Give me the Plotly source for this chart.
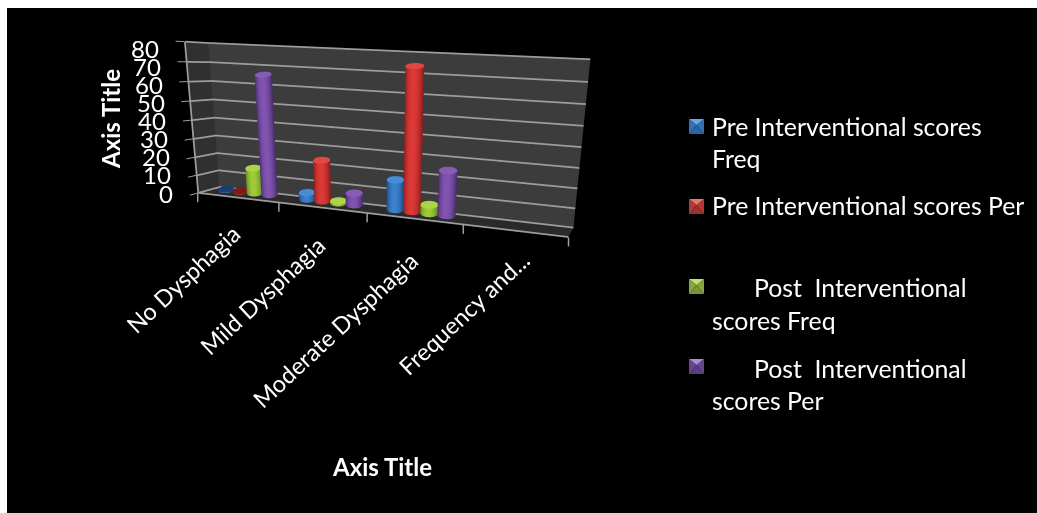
import numpy as np
import plotly.graph_objects as go

# Dysphagia category scores
categories = ["No Dysphagia", "Mild Dysphagia", "Moderate Dysphagia", "Frequency and..."]
pre_freq = [0, 3.6, 15.6, None]
pre_per = [0, 22, 72, None]
post_freq = [14, 1, 4.5, None]
post_per = [64, 6.2, 23, None]
z_ticks = [0, 10, 20, 30, 40, 50, 60, 70, 80]
legend_names = [
    ["Pre Interventional scores", "Freq"],
    ["Pre Interventional scores Per"],
    ["Post\u00a0\u00a0Interventional", "scores Freq"],
    ["Post\u00a0\u00a0Interventional", "scores Per"],
]

W, H = 1037, 513
FONT = "Lato"

# scene camera and box proportions
EYE = np.array([0.79197, -1.72504, 0.22249])
CEN = np.array([0.13304, 0.54590, -0.53179])
UP = np.array([-0.18806, 0.46971, 1.0])
ASP = np.array([1.21967, 0.11132, 0.47184])
CX = 462.74
VIEW_W = 2 * CX

def page_xy(x, y, z):
    """Page position of a data point under the scene camera (used for ticks and label anchors)."""
    X = (np.array([x / 4, y, z / 80]) - 0.5) * ASP
    f = EYE - CEN; f = f / np.linalg.norm(f)
    s = np.cross(UP, f); s = s / np.linalg.norm(s)
    u = np.cross(f, s)
    d = X - EYE
    F = H / 2 / np.tan(np.pi / 8)
    return CX + F * (d @ s) / -(d @ f), H / 2 - F * (d @ u) / -(d @ f)

BAR_W = 1 / 5.5
RX, RY = BAR_W / 2 * 1.02, 0.15
CAP_K = 1.4      # opens the end discs so both ends read as round
FLAT_H = 0.3     # zero-height columns still show their disc

def mix(a, b, w):
    return "rgb(%d,%d,%d)" % tuple(a[i] + (b[i] - a[i]) * w for i in range(3))

def cylinder(cx, v, bright, dark, cap):
    n = 48
    h = max(v, FLAT_H)
    th = np.linspace(0, 2 * np.pi, n, endpoint=False)
    xs = cx + RX * np.cos(th)
    ys = 0.5 + RY * np.sin(th)
    lows = CAP_K * (1 + np.sin(th))
    tops = lows + h
    screen = np.array([page_xy(a, b, 0)[0] for a, b in zip(xs, ys)])
    us = (screen - screen.min()) / (screen.max() - screen.min())
    vx, vy, vz, col, I, J, K = [], [], [], [], [], [], []
    for a in range(n):
        w = np.sin(np.pi * us[a] ** 0.85) ** 0.75
        vx += [xs[a], xs[a]]; vy += [ys[a], ys[a]]; vz += [lows[a], tops[a]]
        col += [mix(dark, bright, w)] * 2
    for a in range(n):
        b = (a + 1) % n
        I += [2 * a, 2 * a + 1]; J += [2 * b, 2 * b]; K += [2 * a + 1, 2 * b + 1]
    base = len(vx)
    vx += list(xs) + [cx]; vy += list(ys) + [0.5]; vz += list(tops) + [CAP_K + h]
    col += [cap if v > 0 else mix(dark, dark, 0)] * (n + 1)
    for a in range(n):
        I.append(base + a); J.append(base + (a + 1) % n); K.append(base + n)
    return go.Mesh3d(x=vx, y=vy, z=vz, i=I, j=J, k=K, vertexcolor=col,
                     lighting=dict(ambient=1, diffuse=0, specular=0, roughness=1, fresnel=0),
                     showlegend=False, hoverinfo="skip")

series = [
    (pre_freq, (60, 130, 205), (24, 64, 115), "rgb(70,140,215)"),
    (pre_per, (222, 58, 55), (125, 26, 26), "rgb(225,72,66)"),
    (post_freq, (160, 205, 60), (85, 120, 28), "rgb(172,212,72)"),
    (post_per, (130, 85, 178), (66, 40, 98), "rgb(136,92,182)"),
]

fig = go.Figure()

# wall gridlines and the front axis lines, drawn just inside the box
GRID = "#9c9c9c"
def scene_line(xs, ys, zs):
    return go.Scatter3d(x=xs, y=ys, z=zs, mode="lines", line=dict(color=GRID, width=3.5),
                        showlegend=False, hoverinfo="skip")

for v in z_ticks:
    fig.add_trace(scene_line([0.01, 0.01, 4], [0.0, 0.99, 0.99], [max(v, 0.2)] * 3))
fig.add_trace(scene_line([0.01, 4], [0.0, 0.0], [0.2, 0.2]))
fig.add_trace(scene_line([0.01, 0.01], [0.0, 0.0], [0.2, 80]))

for s, (vals, br, dk, cap) in enumerate(series):
    for c_i, v in enumerate(vals):
        if v is not None:
            fig.add_trace(cylinder(c_i + (0.75 + 0.5 + s) * BAR_W, v, br, dk, cap))

def px(a, b):
    return a / W, 1 - b / H

shapes = [dict(type="rect", xref="paper", yref="paper", x0=7 / W, x1=1, y0=0, y1=1 - 8 / H,
               fillcolor="black", line_width=0, layer="below")]

# category tick marks hanging below the front floor edge
for t in range(5):
    a, b = page_xy(t, 0, 0)
    x0, y0 = px(a, b); x1, y1 = px(a, b + 9)
    shapes.append(dict(type="line", xref="paper", yref="paper", x0=x0, y0=y0, x1=x1, y1=y1,
                       line=dict(color="#a0a0a0", width=1.5)))

def tri(pts, color):
    path = "M" + " L".join("%.5f,%.5f" % px(a, b) for a, b in pts) + " Z"
    return dict(type="path", xref="paper", yref="paper", path=path, fillcolor=color, line_width=0)

# bevelled legend swatches
legend_swatches = [
    (689, 119, "#6aa6e0", "#3470b4", "#2f64a4"),
    (689, 199, "#e87470", "#b03a38", "#9c3230"),
    (689, 279, "#bfe070", "#86a63c", "#779536"),
    (689, 359, "#a88ccf", "#66478e", "#5a3f80"),
]
sz = 15
for x0, y0, top, side, bottom in legend_swatches:
    c = (x0 + sz / 2, y0 + sz * 0.42)
    shapes += [
        tri([(x0, y0), (x0 + sz, y0), c], top),
        tri([(x0, y0), c, (x0, y0 + sz)], side),
        tri([(x0 + sz, y0), c, (x0 + sz, y0 + sz)], side),
        tri([(x0, y0 + sz), c, (x0 + sz, y0 + sz)], bottom),
    ]

def text(s, x, y, size, anchor="center", angle=0, bold=False):
    a, b = px(x, y)
    return dict(xref="paper", yref="paper", x=a, y=b, text="<b>%s</b>" % s if bold else s, showarrow=False,
                xanchor=anchor, yanchor="middle", textangle=angle,
                font=dict(family=FONT, size=size, color="white"))

anns = []
for v in z_ticks:
    a, _ = page_xy(0, 0, v)
    anns.append(text(str(v), a - 23, 193 - 145 * v / 80, 24, anchor="right"))
label_pos = [(183, 279), (262, 296), (335, 330), (464, 313)]
for name, (a, b) in zip(categories, label_pos):
    anns.append(text(name, a, b, 23.5, angle=-43))
anns.append(text("Axis Title", 382, 466, 24, bold=True))
anns.append(text("Axis Title", 111, 119, 24, angle=-90, bold=True))

legend_rows = [(710, 126), (710, 159), (710, 205), (752, 287), (710, 320), (752, 368), (710, 400)]
flat = [t for group in legend_names for t in group]
for t, (a, b) in zip(flat, legend_rows):
    anns.append(text(t, a, b, 24.8, anchor="left"))

ax_common = dict(showbackground=True, showspikes=False, title=dict(text=""),
                 showticklabels=False, zeroline=False, showaxeslabels=False)
fig.update_layout(
    width=W, height=H, margin=dict(l=0, r=0, t=0, b=0), paper_bgcolor="white",
    shapes=shapes, annotations=anns,
    scene=dict(
        domain=dict(x=[0, VIEW_W / W], y=[0, 1]), bgcolor="rgba(0,0,0,0)", aspectmode="manual",
        aspectratio=dict(x=ASP[0], y=ASP[1], z=ASP[2]),
        camera=dict(eye=dict(x=EYE[0], y=EYE[1], z=EYE[2]), center=dict(x=CEN[0], y=CEN[1], z=CEN[2]),
                    up=dict(x=UP[0], y=UP[1], z=UP[2]), projection=dict(type="perspective")),
        xaxis=dict(ax_common, range=[0, 4], tickvals=[0, 1, 2, 3, 4], showgrid=False,
                   backgroundcolor="#303030", showline=False),
        yaxis=dict(ax_common, range=[0, 1], tickvals=[], showgrid=False,
                   backgroundcolor="#3c3c3c", showline=False),
        zaxis=dict(ax_common, range=[0, 80], tickvals=z_ticks, showgrid=False,
                   backgroundcolor="#2a2a2a", showline=False,
                   ticks="outside", tickcolor="#a0a0a0", ticklen=4, tickwidth=2),
    ),
)
fig.write_html("out.html", config=dict(displayModeBar=False))
